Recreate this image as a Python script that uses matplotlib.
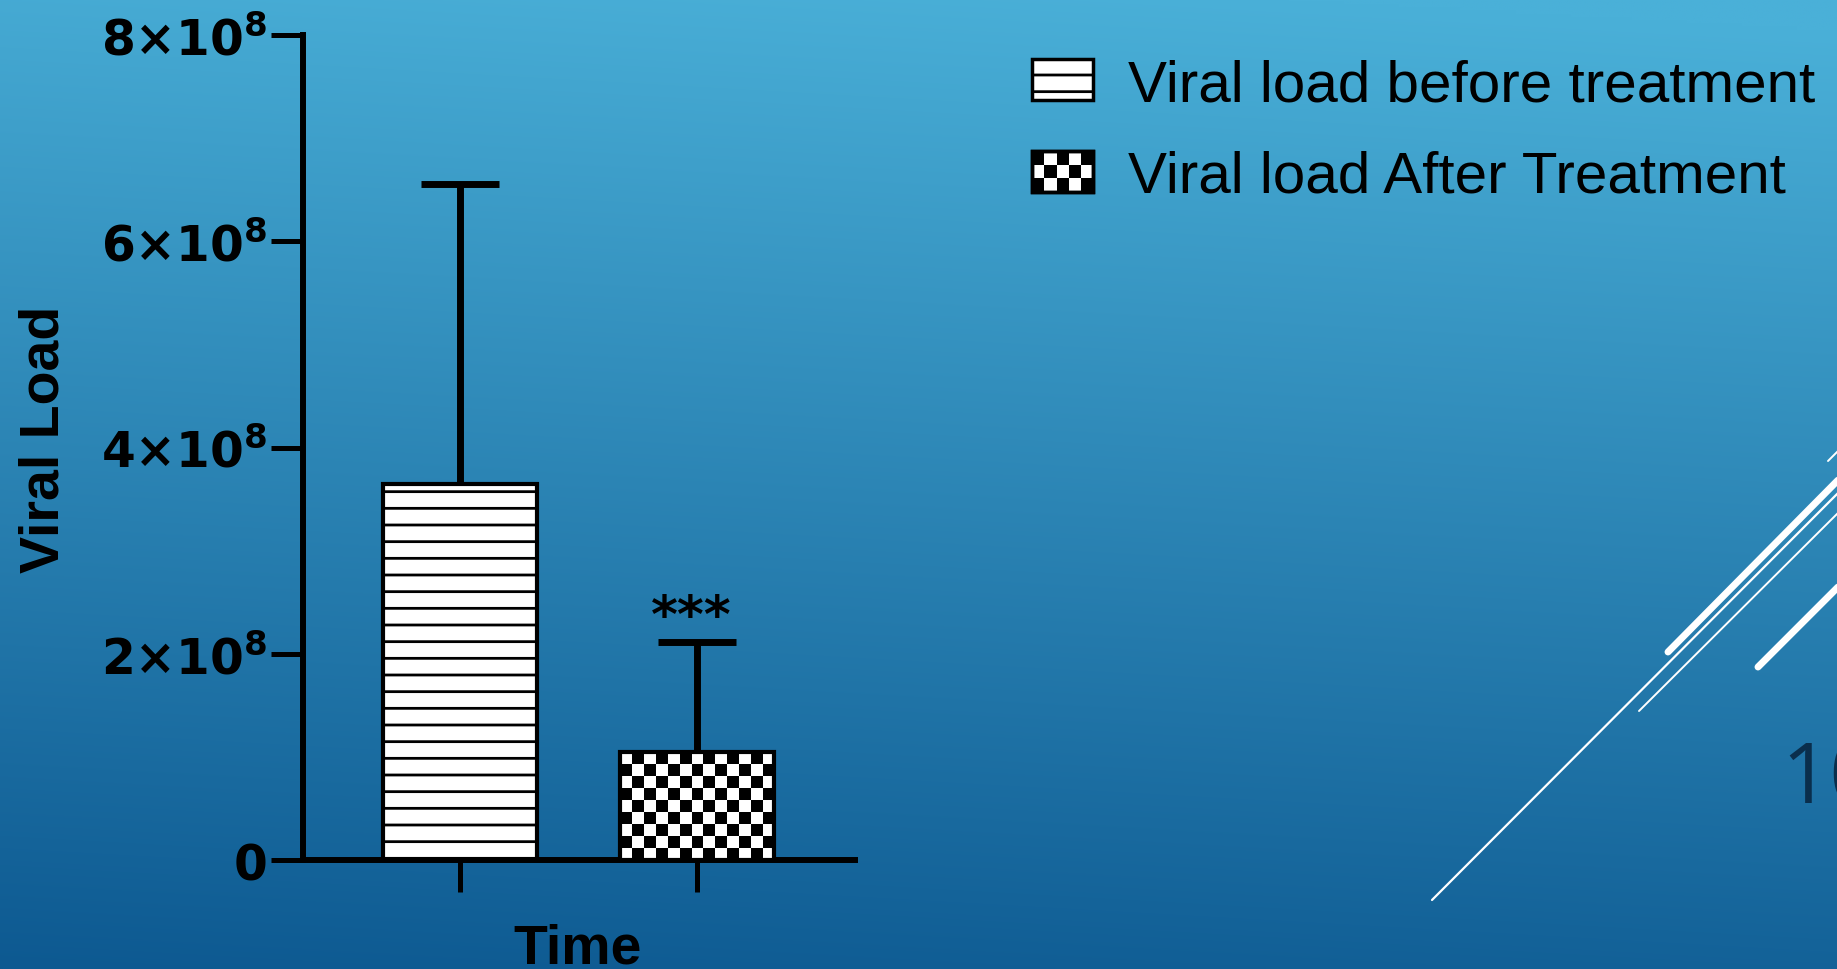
import numpy as np
import matplotlib
matplotlib.use('Agg')
import matplotlib.pyplot as plt
from matplotlib.patches import Rectangle
from matplotlib.legend_handler import HandlerBase
from matplotlib.lines import Line2D
from matplotlib.colors import ListedColormap

# ---------------- data ----------------
groups = ['Viral load before treatment', 'Viral load After Treatment']
means = [3.65e8, 1.045e8]
sds = [2.91e8, 1.07e8]
yticks = [0, 2e8, 4e8, 6e8, 8e8]
ytick_labels = [r'$\mathbf{0}$', r'$\mathbf{2{\times}10^{8}}$', r'$\mathbf{4{\times}10^{8}}$',
                r'$\mathbf{6{\times}10^{8}}$', r'$\mathbf{8{\times}10^{8}}$']
xlabel = 'Time'
ylabel = 'Viral Load'
sig_label = '***'
slide_number = '10'

W, H, DPI = 1837, 970, 100
plt.rcParams['hatch.linewidth'] = 2.0
plt.rcParams['mathtext.fontset'] = 'dejavusans'
fig = plt.figure(figsize=(W / DPI, H / DPI), dpi=DPI)

# ---------------- slide background ----------------
bg = fig.add_axes([0, 0, 1, 1], zorder=-10)
bg.set_axis_off()
yy, xx = np.mgrid[0:1:300j, 0:1:300j]
t = np.clip(0.93 * yy + 0.10 * (1 - xx) - 0.03, 0, 1)
top = np.array([0x4A, 0xB0, 0xD8]) / 255
bot = np.array([0x0D, 0x59, 0x91]) / 255
img = top[None, None, :] * (1 - t[..., None]) + bot[None, None, :] * t[..., None]
bg.imshow(img, extent=(0, 1, 0, 1), origin='upper', aspect='auto', interpolation='bilinear')
bg.set_xlim(0, 1)
bg.set_ylim(0, 1)

# decorative slide lines (figure pixel layout)
deco = [((1668, 653), (1850, 469), 5.0),
        ((1432, 901), (1850, 482), 1.6),
        ((1639, 712), (1850, 502), 1.4),
        ((1758, 668), (1850, 576), 5.0),
        ((1828, 462), (1850, 440), 1.4)]
for (xa, ya), (xb, yb), lw in deco:
    fig.add_artist(Line2D([xa / W, xb / W], [1 - ya / H, 1 - yb / H], color='white',
                          lw=lw, solid_capstyle='round', transform=fig.transFigure, zorder=-5))

fig.text(1781 / W, 1 - 803 / H, slide_number, fontsize=61, family=['Open Sans', 'DejaVu Sans'],
         fontweight='normal', color='#0A2E4C', ha='left', va='baseline')

# ---------------- chart ----------------
ax = fig.add_axes([303 / W, 109 / H, (855 - 303) / W, (861 - 36) / H])
ax.patch.set_alpha(0)
x = np.arange(len(groups))
bw = 0.65
xlim = (-0.662, 1.667)
ylim = (0, 8e8)
ax.set_xlim(*xlim)
ax.set_ylim(*ylim)

bars = ax.bar(x, means, width=bw, color='white', edgecolor='black', linewidth=3, zorder=3)
bars[0].set_hatch('-')
bars[1].set_facecolor('none')

eb = ax.errorbar(x, means, yerr=[np.zeros(len(sds)), sds], fmt='none', ecolor='black',
                 elinewidth=5, capsize=28, capthick=5, zorder=2)
# only the upper cap is shown (the lower one would sit on the bar top)
eb[1][0].set_visible(False)

# checkerboard fill for the second bar
b = bars[1]
x0, y0, bwid, bh = b.get_x(), b.get_y(), b.get_width(), b.get_height()
p0 = ax.transData.transform((x0, y0))
p1 = ax.transData.transform((x0 + bwid, y0 + bh))
sq = 12.0
ncol = max(1, int(round((p1[0] - p0[0]) / sq)))
nrow = max(1, int(round((p1[1] - p0[1]) / sq)))
chk = np.add.outer(np.arange(nrow), np.arange(ncol)) % 2
im = ax.imshow(chk, cmap=ListedColormap(['white', 'black']), extent=(x0, x0 + bwid, y0, y0 + bh),
               origin='lower', interpolation='nearest', aspect='auto', zorder=2.95)
im.set_clip_path(b)
ax.set_xlim(*xlim)
ax.set_ylim(*ylim)

ax.annotate(sig_label, xy=(x[1], means[1] + sds[1]), xytext=(-4, 8), textcoords='offset points',
            ha='center', va='baseline', fontsize=37, fontweight='bold', family='DejaVu Sans')

for s in ['top', 'right']:
    ax.spines[s].set_visible(False)
for s in ['left', 'bottom']:
    ax.spines[s].set_linewidth(4.3)
    ax.spines[s].set_color('black')

ax.set_yticks(yticks, ytick_labels)
ax.set_xticks(x, ['' for _ in x])
ax.tick_params(axis='both', length=23, width=3.6, color='black', direction='out')
ax.tick_params(axis='y', pad=3, labelsize=35)

ax.set_ylabel(ylabel, fontsize=40, fontweight='bold', family='Liberation Sans')
ax.yaxis.label.set_va('baseline')
ax.yaxis.set_label_coords((58.6 - 303) / 552, (861 - 439) / 825)
ax.set_xlabel(xlabel, fontsize=40, fontweight='bold', family='Liberation Sans')
ax.xaxis.label.set_va('baseline')
ax.xaxis.set_label_coords((578 - 303) / 552, (861 - 964) / 825)

# ---------------- legend ----------------
class CheckerHandle(Rectangle):
    pass


class HandlerChecker(HandlerBase):
    def create_artists(self, legend, orig_handle, xdescent, ydescent, width, height, fontsize, trans):
        arts = []
        base = Rectangle((-xdescent, -ydescent), width, height, facecolor='white',
                         edgecolor='black', lw=2.5, transform=trans)
        arts.append(base)
        s = 8.6
        nc = max(1, int(round(width / s)))
        nr = max(1, int(round(height / s)))
        cw, ch = width / nc, height / nr
        for i in range(nr):
            for j in range(nc):
                if (i + j) % 2 == 0:
                    arts.append(Rectangle((-xdescent + j * cw, -ydescent + i * ch), cw, ch,
                                          facecolor='black', edgecolor='none', transform=trans))
        edge = Rectangle((-xdescent, -ydescent), width, height, facecolor='none',
                         edgecolor='black', lw=2.5, transform=trans)
        arts.append(edge)
        return arts


h1 = Rectangle((0, 0), 1, 1, facecolor='white', edgecolor='black', hatch='-', lw=2.5)
h2 = CheckerHandle((0, 0), 1, 1)
fig.legend([h1, h2], groups, handler_map={CheckerHandle: HandlerChecker()},
           loc='upper left', bbox_to_anchor=(1032 / W, 1 - 59 / H), frameon=False,
           prop={'family': 'Liberation Sans', 'size': 42}, borderpad=0, borderaxespad=0,
           handlelength=1.05, handleheight=0.69, handletextpad=0.6, labelspacing=0.65)

fig.savefig('out.png', dpi=DPI)
